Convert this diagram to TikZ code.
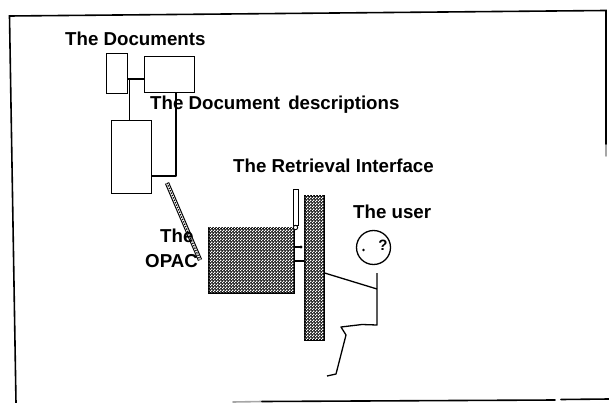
\documentclass[tikz,border=0pt]{standalone}
\usepackage{fontspec}
\setmainfont{Liberation Sans}
\usetikzlibrary{patterns,arrows.meta}

% fine checkerboard used for the shaded blocks
\pgfdeclarepatternformonly{checker}{\pgfpointorigin}{\pgfpoint{3pt}{3pt}}{\pgfpoint{3pt}{3pt}}{
  \pgfpathrectangle{\pgfpointorigin}{\pgfpoint{1.5pt}{1.5pt}}
  \pgfpathrectangle{\pgfpoint{1.5pt}{1.5pt}}{\pgfpoint{1.5pt}{1.5pt}}
  \pgfusepath{fill}
}

\tikzset{
  lbl/.style={font=\bfseries\fontsize{18.7}{20}\selectfont, inner sep=0pt, anchor=base west},
  docbox/.style={draw, fill=white, line width=1.3pt, inner sep=0pt, anchor=north west},
  hatchbox/.style={draw, line width=1.6pt, inner sep=0pt, anchor=north west,
    fill=black!85, postaction={pattern=checker, pattern color=white}},
  frame/.style={line width=1.6pt, line cap=round},
  thin/.style={line width=1.3pt, line join=round},
}

\begin{document}
\begin{tikzpicture}[x=1pt, y=-1pt]
\useasboundingbox (0,0) rectangle (609,403);

% outer frame
\draw[frame] (16,403) -- (9.5,16) -- (606,10.5) -- (606,145);
\draw[frame, black!35] (606,145) -- (606,156);
\draw[frame, black!35] (233,402) -- (262,401.5);
\draw[frame] (262,401.5) -- (555,400);
\draw[frame] (561,399.5) -- (609,399);

% documents and their descriptions
\node[docbox, minimum width=21pt, minimum height=40pt] (doc) at (105.5,53) {};
\node[docbox, minimum width=50pt, minimum height=36pt] (desc) at (144,56) {};
\coordinate (j) at (129.5,79);
\coordinate (dr) at (176,176);
\draw[thin] (desc.south -| dr) -- (dr) -- (dr -| 151,0);
\node[docbox, minimum width=40pt, minimum height=73pt] (cat) at (111,120) {};
\draw[thin] (doc.east |- j) -- (desc.west |- j);
\draw[thin] (j) -- (j |- cat.north);

% OPAC and retrieval interface
\node[hatchbox, minimum width=85pt, minimum height=65pt] (opac) at (208,227) {};
\node[hatchbox, minimum width=19pt, minimum height=144pt] (iface) at (304,195) {};

% link from the catalogue to the OPAC
\coordinate (ds) at (167,183);
\coordinate (de) at (200,260);
\draw[line width=1.1pt, double=white, double distance=2.2pt] (ds) -- (de);
\draw[line width=1.3pt, dash pattern=on 1.3pt off 1.3pt] (ds) -- (de);

% controls between OPAC and interface
\node[draw, fill=white, line width=0.9pt, inner sep=0pt, minimum width=4.5pt,
      minimum height=36pt, anchor=north west] (pen) at (293,189) {};
\node[circle, draw, fill=white, line width=0.9pt, inner sep=0pt, minimum size=4.4pt]
      (knob) at (295.5,227.5) {};
\coordinate (tip) at (301,247);
\draw[line width=1.2pt] (opac.east |- tip) -- (tip);
\fill (tip) circle (1.6pt);
\coordinate (lk) at (0,261);
\draw[line width=2.2pt] (opac.east |- lk) -- (iface.west |- lk);

% the user
\node[circle, draw, line width=1.3pt, minimum size=34pt, inner sep=0pt] (head) at (373.5,247.5) {};
\fill (363.5,250) circle (1.3pt);
\node[font=\bfseries\fontsize{15}{16}\selectfont, inner sep=0pt] (q) at (383,245) {?};
\coordinate (neck) at (377,273);
\coordinate (hip) at (377,325);
\draw[thin] (iface.east |- neck) -- (377,289);
\draw[thin] (neck) -- (hip) -- (362,324.5) -- (341,327) -- (346,335) -- (336,374) -- (327,376);

% labels
\node[lbl] (tdoc) at (65,46) {The Documents};
\node[lbl] (tdesc) at (150,110) {The Document\hspace{3pt} descriptions};
\node[lbl] (tret) at (233,172.5) {The Retrieval Interface};
\node[lbl] (tuser) at (353,218.5) {The user};
\node[lbl] (topac1) at (160,242) {The};
\node[lbl] (topac2) at (145,267) {OPAC};
\end{tikzpicture}
\end{document}
